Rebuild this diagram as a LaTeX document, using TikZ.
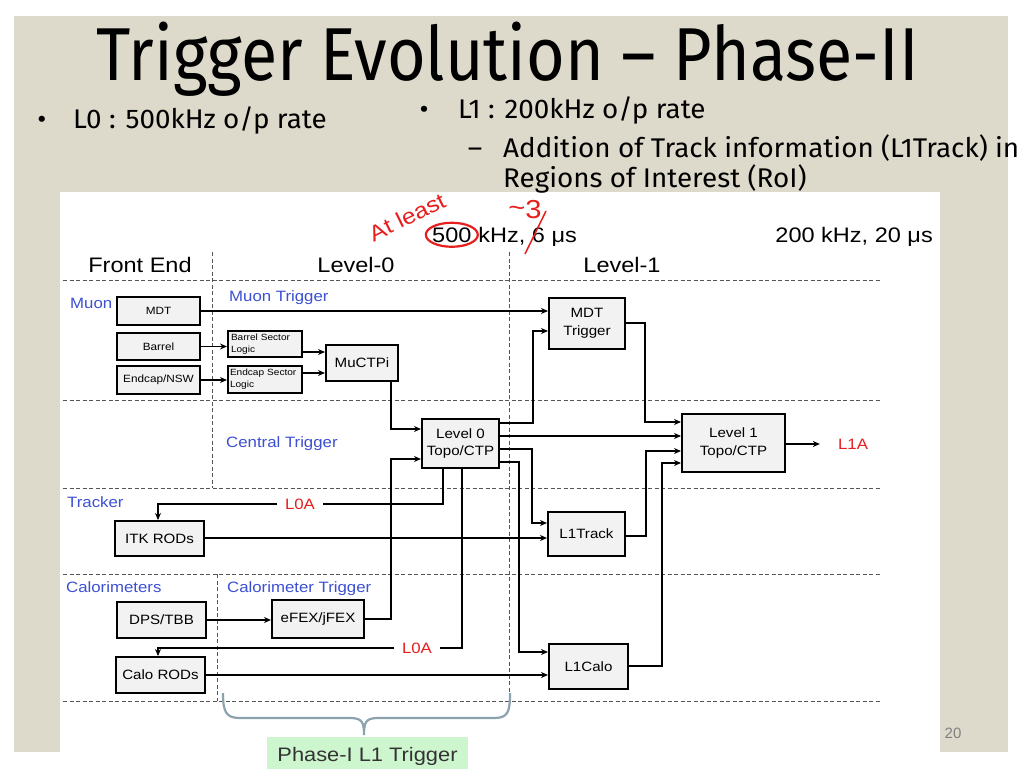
\documentclass[tikz,border=0pt]{standalone}
\usepackage{fontspec}
\setmainfont{Liberation Sans}
\newfontfamily\dfont{Liberation Sans}[FakeStretch=1.12]
\newfontfamily\tfont{Fira Sans}[FakeStretch=0.885]
\newfontfamily\bfont{Fira Sans}[FakeStretch=1.03]
\usetikzlibrary{arrows.meta,calc}
\definecolor{beige}{RGB}{221,217,203}
\definecolor{boxgray}{RGB}{242,242,242}
\definecolor{lblue}{RGB}{60,80,210}
\definecolor{lred}{RGB}{232,30,30}
\definecolor{dashc}{RGB}{85,85,85}
\definecolor{bracec}{RGB}{140,162,175}
\definecolor{pgreen}{RGB}{206,246,206}
\newcommand\fsz[2]{\fontsize{#1}{#2}\selectfont}
\tikzset{
  box/.style={draw, line width=2pt, fill=boxgray, inner sep=0pt, align=center, font=\dfont\fsz{13.5}{17.5}},
  smallbox/.style={box, font=\dfont\fsz{10.5}{12}},
  tinybox/.style={box, align=left, font=\dfont\fsz{9}{12}},
  arr/.style={-{Stealth[length=7pt,width=6pt]}, line width=1.3pt},
  wire/.style={line width=1.3pt},
  sep/.style={dashc, line width=0.9pt, dash pattern=on 4pt off 2.5pt},
  lbl/.style={lblue, inner sep=0pt, anchor=base west, font=\dfont\fsz{15}{18}},
  hdr/.style={inner sep=0pt, anchor=base, font=\dfont\fsz{21}{24}},
  redt/.style={lred, font=\dfont\fsz{15}{18}},
}
\begin{document}
\begin{tikzpicture}[x=1pt,y=-1pt]
\useasboundingbox (0,0) rectangle (1024,768);
\fill[white] (0,0) rectangle (1024,768);
\fill[beige] (14,16) rectangle (1008,752);
\fill[white] (60,192) rectangle (940,768);

% slide texts
\node[anchor=base, inner sep=0pt] (title) at (507.5,80) {\tfont\fsz{75}{80}Trigger Evolution – Phase-II};
\node[anchor=base, inner sep=0pt] (b1) at (42,128) {\bfont\fsz{27}{30}•};
\node[anchor=base west, inner sep=0pt] (t1) at (73,128) {\bfont\fsz{27}{30}L0 : 500kHz o/p rate};
\node[anchor=base, inner sep=0pt] (b2) at (424,118) {\bfont\fsz{27}{30}•};
\node[anchor=base west, inner sep=0pt] (t2) at (458,118) {\bfont\fsz{27}{30}L1 : 200kHz o/p rate};
\node[anchor=base, inner sep=0pt] (d3) at (475,157) {\bfont\fsz{27}{30}–};
\node[anchor=base west, inner sep=0pt] (t3) at (503,157) {\bfont\fsz{27}{30}Addition of Track information (L1Track) in};
\node[anchor=base west, inner sep=0pt] (t4) at (503,187) {\bfont\fsz{27}{30}Regions of Interest (RoI)};
\node[inner sep=0pt, text=gray, font=\fsz{15}{18}] (pg) at (953,733) {20};

% separators
\foreach \yy in {280,400,488,574,701} \draw[sep] (63,\yy) -- (880,\yy);
\draw[sep] (212,252) -- (212,488);
\draw[sep] (217,574) -- (217,701);
\draw[sep] (509,252) -- (509,701);

% headers
\node[hdr] (fe) at (140,272) {Front End};
\node[hdr] (lv0) at (356,272) {Level-0};
\node[hdr] (lv1) at (622,272) {Level-1};
\node[hdr, anchor=base west] (r500) at (432,242) {500};
\node[hdr, anchor=base west] (rrest) at ([xshift=6.5pt]r500.base east) {kHz, 6 μs};
\node[hdr, anchor=base east] (r200) at (933,242) {200 kHz, 20 μs};

% annotations
\draw[lred, line width=2.2pt] (r500.center) ellipse [x radius=26, y radius=12];
\node[lred, inner sep=0pt, rotate=26, font=\dfont\fsz{22}{24}] (atl) at (407,217) {At least};
\node[lred, inner sep=0pt, font=\dfont\fsz{26}{28}] (three) at (525,210) {\raisebox{2pt}{\~{}}3};
\draw[lred, line width=1.5pt] (525,254) -- (546,211);

% section labels
\node[lbl] (muon) at (70,308.5) {Muon};
\node[lbl] (mutrig) at (229,301.5) {Muon Trigger};
\node[lbl] (ctrig) at (226,447) {Central Trigger};
\node[lbl] (trk) at (67,507) {Tracker};
\node[lbl] (calos) at (66,592.5) {Calorimeters};
\node[lbl] (catrig) at (227,592.5) {Calorimeter Trigger};

% boxes
\node[smallbox, minimum width=83, minimum height=28] (mdt) at (158.5,311) {MDT};
\node[smallbox, minimum width=83, minimum height=27] (barrel) at (158.5,346.5) {Barrel};
\node[smallbox, minimum width=83, minimum height=28] (endcap) at (158.5,380) {Endcap/NSW};
\node[tinybox, minimum width=74, minimum height=26, text width=68] (bsl) at (265,344) {Barrel Sector\\Logic};
\node[tinybox, minimum width=74, minimum height=27, text width=70] (esl) at (265,379.5) {Endcap Sector\\Logic};
\node[box, minimum width=72, minimum height=36] (muctpi) at (362,363) {MuCTPi};
\node[box, minimum width=77, minimum height=49] (l0) at (460.5,443.5) {Level 0\\Topo/CTP};
\node[box, minimum width=76, minimum height=51] (mdttrig) at (587,323.5) {MDT\\Trigger};
\node[box, minimum width=103, minimum height=58] (l1) at (733.5,443) {Level 1\\Topo/CTP};
\node[box, minimum width=89, minimum height=35] (itk) at (159.5,538.5) {ITK RODs};
\node[box, minimum width=77, minimum height=44] (l1track) at (586.5,534) {L1Track};
\node[box, minimum width=89, minimum height=36] (dps) at (161.5,620) {DPS/TBB};
\node[box, minimum width=92, minimum height=38] (efex) at (318,619) {eFEX/jFEX};
\node[box, minimum width=89, minimum height=36] (calorods) at (160.5,675) {Calo RODs};
\node[box, minimum width=79, minimum height=45] (l1calo) at (588.5,666.5) {L1Calo};

\node[redt, inner sep=0pt] (l1a) at (853,444) {L1A};
\node[redt, inner xsep=7.5pt, inner ysep=0pt] (l0a1) at (300,504) {L0A};
\node[redt, inner xsep=7.5pt, inner ysep=0pt] (l0a2) at (417,648) {L0A};

% connectors
\draw[arr] (mdt.east) -- (mdttrig.west |- mdt.east);
\draw[arr] (barrel.east) -- (bsl.west |- barrel.east);
\draw[arr] (endcap.east) -- (esl.west |- endcap.east);
\draw[arr] (bsl.east |- 0,352) -- (muctpi.west |- 0,352);
\draw[arr] (esl.east |- 0,373) -- (muctpi.west |- 0,373);
\draw[arr] (muctpi.south -| 391,0) |- (l0.west |- 0,429);
\draw[arr] (efex.east) -| (391,459) -- (l0.west |- 0,459);
\draw[arr] (l0.east |- 0,423) -| (533,331) -- (mdttrig.west |- 0,331);
\draw[arr] (l0.east |- 0,436) -- (l1.west |- 0,436);
\draw[arr] (l0.east |- 0,449) -| (532,523) -- (l1track.west |- 0,523);
\draw[arr] (l0.east |- 0,462) -| (519,652) -- (l1calo.west |- 0,652);
\draw[arr] (mdttrig.east |- 0,323) -| (645,422) -- (l1.west |- 0,422);
\draw[arr] (l1track.east |- 0,536) -| (646,451) -- (l1.west |- 0,451);
\draw[arr] (l1calo.east |- 0,666) -| (662,463) -- (l1.west |- 0,463);
\draw[arr, shorten >=18pt] (l1.east |- 0,444) -- (l1a.west);
\draw[arr] (itk.east |- 0,538) -- (l1track.west |- 0,538);
\draw[wire] (l0.south -| 443,0) |- (l0a1.east);
\draw[arr] (l0a1.west) -| (itk.north -| 158,0);
\draw[wire] (l0.south -| 462,0) |- (l0a2.east);
\draw[arr] (l0a2.west) -| (calorods.north -| 158,0);
\draw[arr] (dps.east) -- (efex.west |- dps.east);
\draw[arr] (calorods.east |- 0,675) -- (l1calo.west |- 0,675);

% Phase-I brace and label
\draw[bracec, line width=2.2pt] (223,693) .. controls (223,712) and (226,718) .. (240,718) -- (350,718) .. controls (362,718) and (364,722) .. (364,735) .. controls (364,722) and (366,718) .. (378,718) -- (494,718) .. controls (508,718) and (510,712) .. (510,693);
\node[fill=pgreen, minimum width=201, minimum height=38, anchor=north, inner sep=0pt, text=black!80, font=\dfont\fsz{19.5}{22}] (ph1) at (367.5,737) {Phase-I L1 Trigger};
\end{tikzpicture}
\end{document}
